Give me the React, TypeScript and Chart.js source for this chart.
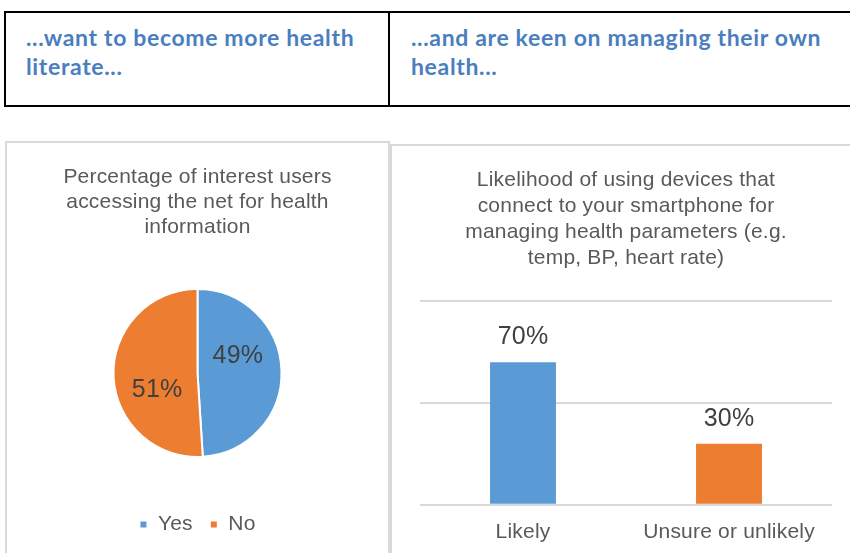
import React, { useEffect, useRef } from "react";
import { Chart, registerables } from "chart.js";

Chart.register(...registerables);

const headerLeft = ["...want to become more health", "literate..."];
const headerRight = ["...and are keen on managing their own", "health..."];

const pieTitle = ["Percentage of interest users", "accessing the net for health", "information"];
const pieLabels = ["Yes", "No"];
const pieValues = [49, 51];

const barTitle = [
  "Likelihood of using devices that",
  "connect to your smartphone for",
  "managing health parameters (e.g.",
  "temp, BP, heart rate)",
];
const barLabels = ["Likely", "Unsure or unlikely"];
const barValues = [70, 30];

const BLUE = "#5B9BD5";
const ORANGE = "#ED7D31";
const TEXT = "#595959";
const LABEL = "#404040";
const FONT = "'Liberation Sans', Arial, sans-serif";
const SPACING = "0.2px";

const spacingPlugin = {
  id: "letterSpacing",
  beforeLayout(chart: any) {
    chart.ctx.letterSpacing = SPACING;
  },
  beforeDraw(chart: any) {
    chart.ctx.letterSpacing = SPACING;
  },
};

const pieLabelPlugin = {
  id: "pieLabels",
  afterDatasetsDraw(chart: any) {
    const meta = chart.getDatasetMeta(0);
    const ctx = chart.ctx;
    ctx.save();
    ctx.font = `25px ${FONT}`;
    ctx.fillStyle = LABEL;
    ctx.textAlign = "center";
    ctx.textBaseline = "middle";
    meta.data.forEach((arc: any, i: number) => {
      const p = arc.getProps(["x", "y", "startAngle", "endAngle", "outerRadius"], true);
      const mid = (p.startAngle + p.endAngle) / 2 - 0.36;
      const d = p.outerRadius * 0.52;
      ctx.fillText(pieValues[i] + "%", p.x + Math.cos(mid) * d, p.y + Math.sin(mid) * d);
    });
    ctx.restore();
  },
};

const barLabelPlugin = {
  id: "barLabels",
  afterDatasetsDraw(chart: any) {
    const meta = chart.getDatasetMeta(0);
    const ctx = chart.ctx;
    ctx.save();
    ctx.font = `25px ${FONT}`;
    ctx.fillStyle = LABEL;
    ctx.textAlign = "center";
    ctx.textBaseline = "alphabetic";
    meta.data.forEach((bar: any, i: number) => {
      ctx.fillText(barValues[i] + "%", bar.x, bar.y - 18);
    });
    ctx.restore();
  },
};

function PieChart() {
  const ref = useRef<HTMLCanvasElement>(null);
  useEffect(() => {
    const chart = new Chart(ref.current!, {
      type: "pie",
      data: {
        labels: pieLabels,
        datasets: [
          {
            data: pieValues,
            backgroundColor: [BLUE, ORANGE],
            borderColor: "#ffffff",
            borderWidth: 2,
            radius: 84,
          } as any,
        ],
      },
      options: {
        animation: false,
        responsive: false,
        layout: { padding: { bottom: 8 } },
        plugins: {
          title: {
            display: true,
            text: pieTitle,
            color: TEXT,
            font: { family: FONT, size: 21, weight: "normal", lineHeight: 1.19 },
            padding: { top: 22, bottom: 9 },
          },
          legend: {
            position: "bottom",
            labels: {
              color: TEXT,
              font: { family: FONT, size: 21 },
              boxWidth: 8,
              boxHeight: 8,
              padding: 17,
            },
          },
          tooltip: { enabled: false },
        },
      },
      plugins: [spacingPlugin, pieLabelPlugin],
    });
    return () => chart.destroy();
  }, []);
  return <canvas ref={ref} width={381} height={410} />;
}

function BarChart() {
  const ref = useRef<HTMLCanvasElement>(null);
  useEffect(() => {
    const chart = new Chart(ref.current!, {
      type: "bar",
      data: {
        labels: barLabels,
        datasets: [
          {
            data: barValues,
            backgroundColor: [BLUE, ORANGE],
            categoryPercentage: 1,
            barPercentage: 0.32,
          },
        ],
      },
      options: {
        animation: false,
        responsive: false,
        layout: { padding: { left: 28, right: 18, bottom: 0 } },
        scales: {
          y: {
            min: 0,
            max: 100,
            ticks: { display: false, stepSize: 50 },
            border: { display: false },
            grid: { color: "#d9d9d9", lineWidth: 2, drawTicks: false },
          },
          x: {
            grid: { display: false },
            border: { display: false },
            ticks: { color: TEXT, font: { family: FONT, size: 21 }, padding: 7 },
          },
        },
        plugins: {
          title: {
            display: true,
            text: barTitle,
            color: TEXT,
            font: { family: FONT, size: 21, weight: "normal", lineHeight: 1.23 },
            padding: { top: 21.5, bottom: 30.5 },
          },
          legend: { display: false },
          tooltip: { enabled: false },
        },
      },
      plugins: [spacingPlugin, barLabelPlugin],
    });
    return () => chart.destroy();
  }, []);
  return <canvas ref={ref} width={458} height={406} />;
}

export default function App() {
  const headerText: React.CSSProperties = {
    position: "absolute",
    top: 23,
    fontFamily: "Lato, 'Open Sans', sans-serif",
    fontWeight: 700,
    fontSize: 23,
    letterSpacing: "0.65px",
    lineHeight: "29px",
    color: "#4A7EBF",
    whiteSpace: "nowrap",
  };
  return (
    <div style={{ position: "fixed", left: 0, top: 0, width: 850, height: 553, background: "#fff", overflow: "hidden" }}>
      <div
        style={{
          position: "absolute",
          left: 4,
          top: 11,
          width: 900,
          height: 92,
          border: "2px solid #000",
        }}
      />
      <div style={{ position: "absolute", left: 388, top: 11, width: 2, height: 96, background: "#000" }} />
      <div style={{ ...headerText, left: 26 }}>
        {headerLeft.map((l, i) => (
          <div key={i}>{l}</div>
        ))}
      </div>
      <div style={{ ...headerText, left: 411 }}>
        {headerRight.map((l, i) => (
          <div key={i}>{l}</div>
        ))}
      </div>
      <div
        style={{
          position: "absolute",
          left: 5,
          top: 141,
          width: 381,
          height: 430,
          border: "2px solid #d9d9d9",
        }}
      >
        <PieChart />
      </div>
      <div
        style={{
          position: "absolute",
          left: 390,
          top: 144,
          width: 470,
          height: 430,
          border: "2px solid #d9d9d9",
        }}
      >
        <BarChart />
      </div>
    </div>
  );
}
